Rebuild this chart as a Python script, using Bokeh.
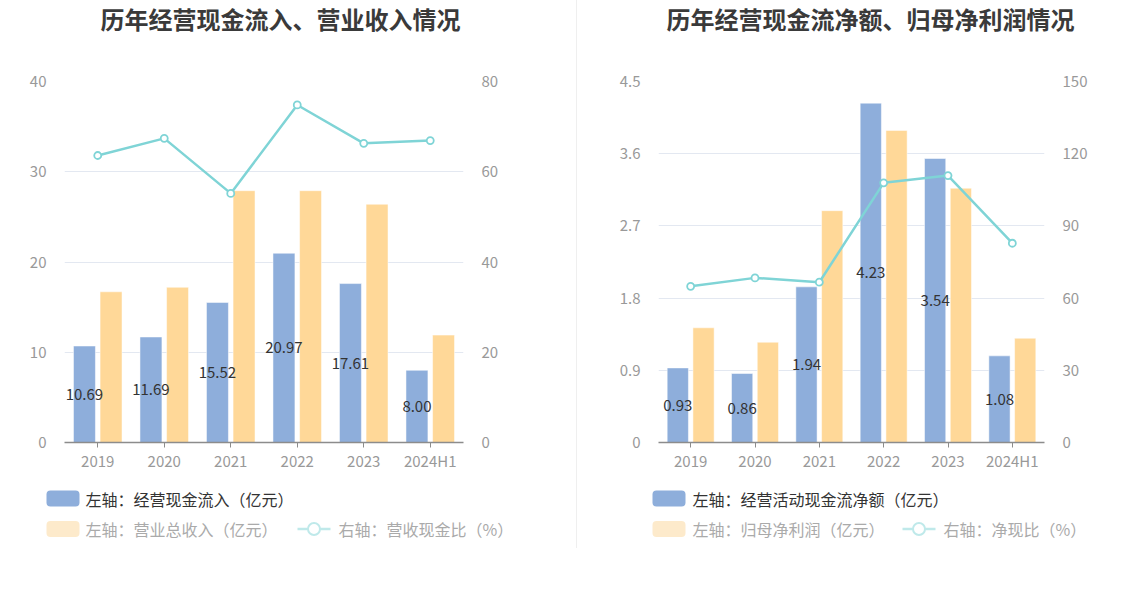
from bokeh.plotting import figure
from bokeh.models import Range1d, LinearAxis, FixedTicker, Div
from bokeh.layouts import row, column
from bokeh.embed import file_html
from bokeh.resources import INLINE
from bokeh.core.properties import value

years = ["2019", "2020", "2021", "2022", "2023", "2024H1"]
# left panel
cash_inflow = [10.69, 11.69, 15.52, 20.97, 17.61, 8.00]
revenue = [16.7, 17.2, 27.9, 27.9, 26.4, 11.9]
rev_cash_ratio = [63.6, 67.4, 55.2, 74.8, 66.3, 66.9]
# right panel
net_cash_flow = [0.93, 0.86, 1.94, 4.23, 3.54, 1.08]
net_profit = [1.43, 1.25, 2.89, 3.89, 3.17, 1.30]
net_cash_ratio = [64.9, 68.4, 66.6, 107.9, 110.9, 82.8]

left_ticks = [0, 10, 20, 30, 40]
right_ticks = [0, 20, 40, 60, 80]
left_ticks2 = [0, 0.9, 1.8, 2.7, 3.6, 4.5]
right_ticks2 = [0, 30, 60, 90, 120, 150]

FONT = value("Noto Sans CJK SC")
FONTNAME = "Noto Sans CJK SC"
BLUE = "#8eaedb"
ORANGE = "#ffd898"
CYAN = "#7fd4d6"
GREY = "#999999"

TH = 60      # title strip height
CH = 413     # chart height
LH = 87      # legend strip height


def no_align(f):
    try:
        f.frame_align = False
    except Exception:
        pass


def blank(w, h):
    f = figure(width=w, height=h, x_range=Range1d(0, w), y_range=Range1d(0, h),
               output_backend="svg", toolbar_location=None,
               x_axis_location=None, y_axis_location=None,
               min_border=0, min_border_left=0, min_border_right=0,
               min_border_top=0, min_border_bottom=0)
    f.outline_line_color = None
    f.grid.visible = False
    no_align(f)
    return f


def panel(W, x0, bl, br, title, tcx, bars1, bars2, line, ymax, lticks, rmax, rticks,
          leg1, leg2, leg3, fmt_zero, sw_x, txt_x, icon_x, txt3_x):
    # title strip
    t = blank(W, TH)
    t.text(x=[tcx - x0], y=[TH - 18], text=[title], text_font=FONT,
           text_font_size="24px", text_font_style="bold", text_color="#3a3a3a",
           text_align="center", text_baseline="middle")

    xs = list(range(len(years)))
    p = figure(width=W, height=CH, x_range=Range1d(-0.5, len(years) - 0.5),
               y_range=Range1d(0, ymax), output_backend="svg", toolbar_location=None,
               min_border_left=bl, min_border_right=br, min_border_top=81 - TH,
               min_border_bottom=TH + CH - 442)
    no_align(p)
    p.outline_line_color = None
    p.extra_y_ranges = {"r": Range1d(0, rmax)}

    p.vbar(x=[x - 0.2 for x in xs], top=bars1, width=0.33, fill_color=BLUE,
           line_color="white", line_width=0.5)
    p.vbar(x=[x + 0.2 for x in xs], top=bars2, width=0.33, fill_color=ORANGE,
           line_color="white", line_width=0.5)
    p.line(x=xs, y=line, y_range_name="r", line_color=CYAN, line_width=2.5)
    p.scatter(x=xs, y=line, y_range_name="r", size=7, fill_color="white",
              line_color=CYAN, line_width=1.8)
    p.text(x=[x - 0.2 for x in xs], y=[v / 2 for v in bars1],
           text=["%.2f" % v for v in bars1], text_font=FONT, text_font_size="15px",
           text_color="#333333", text_align="center", text_baseline="middle")

    p.xgrid.visible = False
    p.ygrid.ticker = FixedTicker(ticks=lticks)
    p.ygrid.grid_line_color = "#e3e8f1"
    p.ygrid.grid_line_width = 1

    xa = p.xaxis[0]
    xa.ticker = FixedTicker(ticks=xs)
    xa.major_label_overrides = {i: y for i, y in enumerate(years)}
    xa.axis_line_color = "#8c8c8c"
    xa.axis_line_width = 1.5
    xa.major_tick_line_color = "#8c8c8c"
    xa.major_tick_in = 0
    xa.major_tick_out = 5
    xa.minor_tick_line_color = None
    xa.major_label_text_font = FONTNAME
    xa.major_label_text_font_size = "15px"
    xa.major_label_text_color = GREY
    xa.major_label_standoff = 2

    ya = p.yaxis[0]
    ya.ticker = FixedTicker(ticks=lticks)
    if fmt_zero:
        ya.major_label_overrides = {0: "0"}
    ra = LinearAxis(y_range_name="r", ticker=FixedTicker(ticks=rticks))
    p.add_layout(ra, "right")
    for a in (ya, ra):
        a.axis_line_color = None
        a.major_tick_line_color = None
        a.minor_tick_line_color = None
        a.major_label_text_font = FONTNAME
        a.major_label_text_font_size = "15px"
        a.major_label_text_color = GREY
        a.major_label_standoff = 12

    # legend strip (page coords -> strip coords)
    lg = blank(W, LH)
    top = TH + CH
    fy = lambda py: LH - (py - top)
    r1, r2 = fy(498), fy(528.5)
    sx = sw_x - x0
    lg.quad(left=[sx], right=[sx + 33], bottom=[r1 - 8], top=[r1 + 8],
            fill_color=BLUE, line_color=None, border_radius=4)
    lg.quad(left=[sx], right=[sx + 33], bottom=[r2 - 8], top=[r2 + 8],
            fill_color="#fdeacb", line_color=None, border_radius=4)
    lg.text(x=[txt_x - x0], y=[r1], text=[leg1], text_font=FONT, text_font_size="16px",
            text_color="#333333", text_baseline="middle")
    lg.text(x=[txt_x - x0], y=[r2], text=[leg2], text_font=FONT,
            text_font_size="16px", text_color="#aaaaaa", text_baseline="middle")
    lx = icon_x - x0
    lg.line(x=[lx, lx + 33], y=[r2, r2], line_color="#bfe9ea", line_width=2.5)
    lg.scatter(x=[lx + 16.5], y=[r2], size=12, fill_color="white",
               line_color="#bfe9ea", line_width=2)
    lg.text(x=[txt3_x - x0], y=[r2], text=[leg3], text_font=FONT,
            text_font_size="16px", text_color="#aaaaaa", text_baseline="middle")
    return column(t, p, lg)


left = panel(576, 0, 64, 113, "历年经营现金流入、营业收入情况", 280,
             cash_inflow, revenue, rev_cash_ratio, 40, left_ticks, 80, right_ticks,
             "左轴：经营现金流入（亿元）", "左轴：营业总收入（亿元）", "右轴：营收现金比（%）",
             False, 46, 85, 297, 338)
right = panel(570, 577, 81, 103, "历年经营现金流净额、归母净利润情况", 870,
              net_cash_flow, net_profit, net_cash_ratio, 4.5, left_ticks2, 150, right_ticks2,
              "左轴：经营活动现金流净额（亿元）", "左轴：归母净利润（亿元）", "右轴：净现比（%）",
              True, 652, 692, 902, 943)

divider = Div(width=1, height=548, margin=0, styles={"background-color": "#efefef"})
layout = row(left, divider, right)

open("out.html", "w").write(file_html(layout, INLINE))
